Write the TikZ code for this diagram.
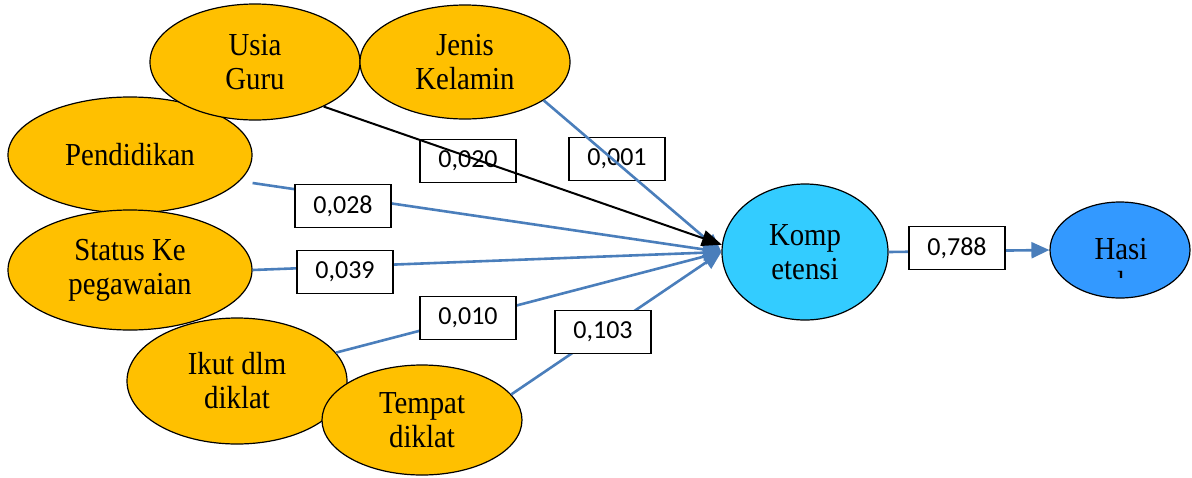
\documentclass[tikz,border=0pt]{standalone}
\usepackage{fontspec}
\setmainfont{Liberation Serif}[FakeStretch=0.9]
\newfontfamily\numfont{Carlito}
\usepackage{tikz}
\usetikzlibrary{arrows.meta,shapes.geometric,positioning}
\definecolor{gold}{HTML}{FFC000}
\definecolor{kompblue}{HTML}{33CCFF}
\definecolor{hasilblue}{HTML}{3399FF}
\definecolor{lineblue}{HTML}{4A7EBB}

\begin{document}
\begin{tikzpicture}[x=0.5pt, y=-0.5pt,
    var/.style={ellipse, draw=black, line width=0.6pt, fill=gold, inner sep=0pt, align=center, font=\fontsize{16}{17}\selectfont},
    coef/.style={draw, line width=0.6pt, fill=white, minimum width=48pt, minimum height=21.5pt, inner sep=0pt, font=\numfont\fontsize{13}{15}\selectfont},
    link/.style={draw=lineblue, line width=1.3pt, -{Triangle[length=9pt,width=8pt]}},
    blacklink/.style={draw=black, line width=1pt, -{Triangle[length=10pt,width=8pt]}}]
    \useasboundingbox (0,0) rectangle (1192,477);

    \node [var, minimum width=122pt, minimum height=58pt] (pend) at (130,155) {Pendidikan};
    \node [var, minimum width=105pt, minimum height=58pt] (usia) at (255,62) {Usia\\Guru};
    \node [var, minimum width=105pt, minimum height=57pt] (jenis) at (465,62) {Jenis\\Kelamin};
    \node [var, minimum width=122pt, minimum height=60pt] (status) at (130,270) {Status Ke\\pegawaian};
    \node [var, minimum width=110pt, minimum height=63pt] (ikut) at (237,381) {Ikut dlm\\diklat};
    \node [var, minimum width=100pt, minimum height=55pt] (tempat) at (422,420) {Tempat\\diklat};
    \node [var, fill=kompblue, minimum width=83pt, minimum height=68pt] (komp) at (805,252) {Komp\\etensi};
    \node [var, fill=hasilblue, minimum width=70pt, minimum height=48pt] (hasil) at (1120,250) {};
    \begin{scope}
        \clip (1050,200) rectangle (1192,277);
        \node [align=center, font=\fontsize{16}{17}\selectfont] (hasiltext) at (1121,266) {Hasi\\l};
    \end{scope}

    \draw [link] ([yshift=-14pt]pend.east) -- (komp.west);
    \draw [link] (status.east) -- (komp.west);
    \draw [link] (ikut.16) -- (komp.west);
    \draw [link] (tempat.16) -- (komp.west);
    \draw [link] (komp.east) -- (hasil.west);

    \node [coef] (c020) at (468,161) {0,020};
    \node [coef] (c001) at (617,159) {0,001};
    \node [coef] (c028) at (343,206) {0,028};
    \node [coef] (c039) at (345,272) {0,039};
    \node [coef] (c010) at (468,318) {0,010};
    \node [coef] (c103) at (603,332) {0,103};
    \node [coef] (c788) at (957,248) {0,788};

    \draw [link] (jenis.-26) -- (komp.west);
    \draw [blacklink] (usia.-33) -- (komp.175);
\end{tikzpicture}
\end{document}
